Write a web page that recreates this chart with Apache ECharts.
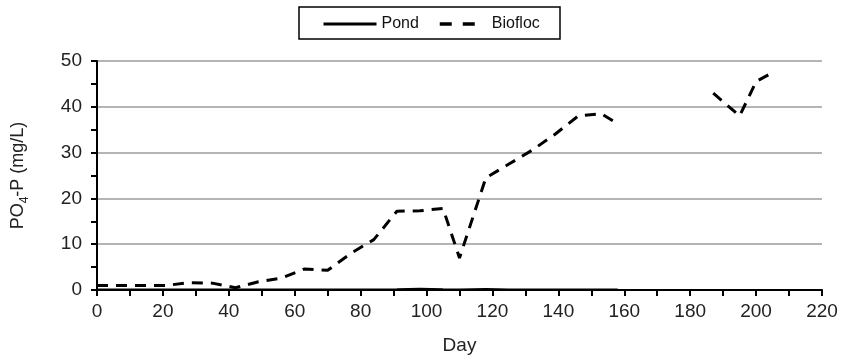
<!DOCTYPE html>
<html><head><meta charset="utf-8">
<script src="https://cdn.jsdelivr.net/npm/echarts@6/dist/echarts.min.js"></script>
<style>html,body{margin:0;padding:0;background:#fff}#c{width:841px;height:361px}</style>
</head><body><div id="c"></div>
<script>
const seriesNames = ['Pond', 'Biofloc'];
const pondDays = [0,7,14,21,28,35,42,49,56,63,70,77,84,91,98,105,110,118,125,132,139,146,153,158];
const pondValues = [0.05,0.05,0.05,0.05,0.05,0.05,0.05,0.05,0.05,0.05,0.05,0.05,0.05,0.1,0.2,0.1,0.05,0.15,0.05,0.05,0.05,0.05,0.05,0.05];
const bioflocDays = [0,7,14,21,28,35,42,49,56,63,70,77,84,91,98,105,110,118,125,132,139,146,153,158,170,187,195,200,205];
const bioflocValues = [1.0,1.0,1.0,1.0,1.6,1.5,0.5,1.8,2.6,4.6,4.3,8.0,11.0,17.2,17.3,17.8,7.0,24.5,27.5,30.5,34.0,38.0,38.5,36.3,null,43.0,38.0,45.5,47.5];
const xTicks = {min:0, max:220, interval:20};
const yTicks = {min:0, max:50, interval:10};

const pair = (d, v) => d.map((x, i) => [x, v[i] === null ? '-' : v[i]]);
const font = 'Liberation Sans, Arial, sans-serif';
const legendText = {fontFamily: font, fontSize: 16, color: '#111'};
const chart = echarts.init(document.getElementById('c'));
chart.setOption({
  animation: false,
  grid: {left: 97, right: 19, top: 61, bottom: 71},
  graphic: [{type: 'rect', shape: {x: 299, y: 7, width: 261, height: 32},
             style: {fill: 'none', stroke: '#000', lineWidth: 1.5}, silent: true}],
  legend: [
    {left: 322, top: 16, data: [seriesNames[0]], itemWidth: 53, itemHeight: 14, padding: 0,
     itemStyle: {opacity: 0}, lineStyle: {width: 3}, textStyle: legendText},
    {left: 438, top: 16, data: [seriesNames[1]], itemWidth: 35, itemHeight: 14, padding: 0,
     itemStyle: {opacity: 0}, lineStyle: {type: [12, 11], width: 3.5},
     textStyle: Object.assign({padding: [0, 0, 0, 12]}, legendText)}
  ],
  xAxis: {
    type: 'value', min: xTicks.min, max: xTicks.max, interval: xTicks.interval,
    name: 'Day', nameLocation: 'middle', nameGap: 46,
    nameTextStyle: {fontFamily: font, fontSize: 19, color: '#222'},
    axisLine: {lineStyle: {color: '#000', width: 2}},
    axisTick: {length: 6, lineStyle: {color: '#000', width: 2}},
    minorTick: {show: true, splitNumber: 2, length: 6, lineStyle: {color: '#000', width: 2}},
    axisLabel: {fontFamily: font, fontSize: 19, color: '#222', margin: 12},
    splitLine: {show: false}
  },
  yAxis: {
    type: 'value', min: yTicks.min, max: yTicks.max, interval: yTicks.interval,
    name: '{a|PO}{s|4}{a|-P (mg/L)}', nameLocation: 'middle', nameGap: 70, nameRotate: 90,
    nameTextStyle: {
      rich: {
        a: {fontFamily: font, fontSize: 18, color: '#222', verticalAlign: 'bottom', lineHeight: 20},
        s: {fontFamily: font, fontSize: 12, color: '#222', verticalAlign: 'bottom', lineHeight: 20, padding: [0,0,-4,0]}
      }
    },
    axisLine: {show: true, lineStyle: {color: '#000', width: 2}},
    axisTick: {show: true, length: 6, lineStyle: {color: '#000', width: 2}},
    minorTick: {show: true, splitNumber: 2, length: 6, lineStyle: {color: '#000', width: 2}},
    axisLabel: {fontFamily: font, fontSize: 19, color: '#222', margin: 15},
    splitLine: {show: true, lineStyle: {color: '#b4b4b4', width: 2}}
  },
  series: [
    {name: seriesNames[0], type: 'line', data: pair(pondDays, pondValues), symbol: 'none',
     lineStyle: {color: '#000', width: 2.5, type: 'solid'}, itemStyle: {color: '#000'}},
    {name: seriesNames[1], type: 'line', data: pair(bioflocDays, bioflocValues), symbol: 'none',
     connectNulls: false,
     lineStyle: {color: '#000', width: 3, type: [11, 8]}, itemStyle: {color: '#000'}}
  ]
});
</script></body></html>
